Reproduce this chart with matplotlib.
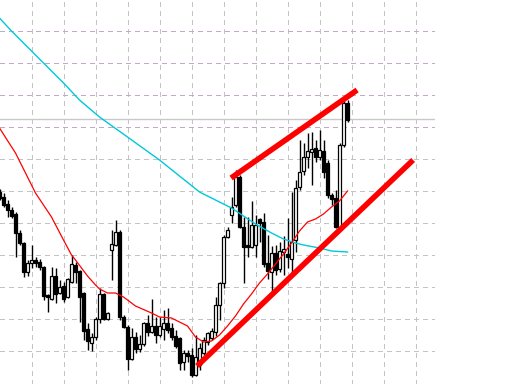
import numpy as np
import matplotlib
matplotlib.use("Agg")
import matplotlib.pyplot as plt

# bar index (0 = first full bar at the left edge)
bar_idx = list(range(-1, 87))

# OHLC (price units = pixel height from bottom)
opens = [192, 187, 180, 174, 170, 151, 141, 112, 121, 124, 122, 117, 89, 85, 108, 91,
         98, 87, 102, 119, 113, 91, 55, 41, 47, 65, 90, 65, 134, 139, 152, 67,
         57, 25, 47, 35, 40, 61, 52, 58, 49, 55, 61, 56, 48, 46, 22, 31,
         29, 9, 19, 31, 42, 46, 52, 79, 101, 147, 169, 179, 207, 157, 139, 137,
         139, 165, 162, 121, 112, 131, 115, 132, 130, 125, 144, 197, 213, 227, 232, 236,
         227, 233, 221, 189, 186, 157, 239, 281]
closes = [186, 179, 174, 168, 151, 141, 112, 121, 124, 121, 117, 88, 87, 108, 90, 97,
          85, 105, 120, 112, 87, 53, 43, 47, 65, 90, 65, 71, 140, 152, 67, 57,
          25, 47, 35, 40, 61, 52, 58, 49, 58, 61, 54, 47, 38, 21, 31, 28,
          9, 27, 36, 44, 51, 53, 79, 101, 147, 154, 177, 207, 157, 137, 137, 159,
          159, 161, 120, 113, 131, 114, 133, 135, 127, 142, 196, 212, 227, 233, 235, 227,
          234, 212, 189, 185, 157, 239, 281, 264]
highs = [195, 191, 184, 177, 172, 154, 142, 124, 139, 127, 125, 118, 90, 117, 116, 104,
         102, 106, 129, 122, 114, 92, 61, 51, 67, 96, 91, 72, 154, 164, 154, 69,
         59, 56, 52, 49, 62, 69, 85, 67, 67, 74, 76, 61, 54, 47, 34, 34,
         36, 49, 41, 47, 52, 56, 87, 102, 149, 157, 187, 214, 209, 167, 167, 183,
         169, 166, 171, 149, 138, 139, 142, 148, 166, 192, 204, 244, 241, 251, 252, 244,
         254, 244, 224, 191, 194, 241, 284, 284]
lows = [184, 177, 167, 166, 127, 139, 107, 108, 116, 117, 114, 84, 72, 84, 81, 90,
        82, 86, 101, 101, 62, 44, 34, 33, 44, 61, 64, 64, 104, 138, 64, 56,
        14, 24, 31, 32, 38, 48, 51, 41, 47, 44, 51, 44, 36, 14, 14, 22,
        7, 8, 14, 29, 39, 44, 48, 64, 96, 146, 161, 177, 156, 101, 127, 136,
        127, 142, 117, 105, 92, 109, 112, 109, 116, 111, 132, 194, 209, 216, 199, 222,
        224, 206, 186, 179, 156, 155, 237, 262]

# fast moving average (red)
ma_fast_idx = [-1, 3, 8, 12, 15, 17, 18, 21, 23, 24, 26, 28, 30, 33, 37, 39, 42, 44, 46, 48,
               50, 52, 54, 56, 58, 60, 62, 64, 66, 68, 70, 72, 74, 76, 78, 80, 82, 84, 86]
ma_fast = [256, 231, 191, 167, 144, 129, 124, 108, 99, 95, 91, 91, 87, 78, 71, 67, 66, 62, 58, 47,
           42, 43, 49, 58, 68, 80, 90, 101, 110, 120, 130, 141, 153, 162, 165, 170, 177, 183, 193]

# slow moving average (cyan)
ma_slow_idx = [-1, 2, 7, 15, 19, 24, 31, 39, 49, 57, 63, 67, 70, 73, 75, 79, 82, 86]
ma_slow = [366, 353, 333, 301, 284, 267, 247, 224, 192, 176, 160, 151, 145, 141, 139, 136, 133, 132]

# channel trend lines
upper_line_x = [56.9, 88.4]
upper_line_y = [206, 294]
lower_line_x = [48.4, 102.4]
lower_line_y = [18, 224]

price_level = 265.5

fig = plt.figure(figsize=(5.12, 3.84), dpi=100)
ax = fig.add_axes([0, 0, 435 / 512, 1])
ax.set_xlim(-0.875, 107.875)
ax.set_ylim(0, 384)
ax.axis("off")

# grid (crisp dashed lines like the terminal)
for gx in np.arange(7, 104, 8):
    ax.axvline(gx, color="#c4c4c4", lw=1, ls=(0, (3, 3)), antialiased=False, zorder=0)
for gy in np.arange(32.7, 353, 32):
    col = "#c2aac6" if gy > 250 else "#c4c4c4"
    ax.axhline(gy, color=col, lw=1, ls=(0, (3, 3)), antialiased=False, zorder=0)

ax.axhline(price_level, color="#c8c8c8", lw=1, zorder=1)

x = np.array(bar_idx)
o = np.array(opens)
c = np.array(closes)
h = np.array(highs)
l = np.array(lows)

ax.vlines(x, l, h, color="black", lw=1, zorder=2)
bull = c >= o
body_lo = np.minimum(o, c)
body_h = np.maximum(np.abs(c - o), 1)
ax.bar(x[bull], body_h[bull], bottom=body_lo[bull], width=0.55,
       color="white", edgecolor="black", linewidth=0.9, zorder=3)
ax.bar(x[~bull], body_h[~bull], bottom=body_lo[~bull], width=0.55,
       color="black", edgecolor="black", linewidth=0.9, zorder=3)

ax.plot(ma_slow_idx, ma_slow, color="#00c8d8", lw=1, zorder=4)
ax.plot(ma_fast_idx, ma_fast, color="#ff0000", lw=0.9, zorder=4)

ax.plot(upper_line_x, upper_line_y, color="#ff0000", lw=4, solid_capstyle="butt", zorder=5)
ax.plot(lower_line_x, lower_line_y, color="#ff0000", lw=4, solid_capstyle="butt", zorder=5)

fig.savefig("out.png", dpi=100)
